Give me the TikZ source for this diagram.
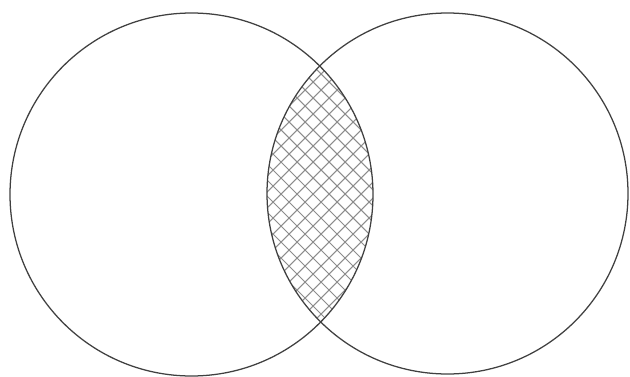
\documentclass[tikz,border=0pt]{standalone}
\usepackage{tikz}
\usetikzlibrary{calc}

\begin{document}
\begin{tikzpicture}[x=0.025cm, y=0.025cm,
    rim/.style={draw=black!75, line width=0.9pt},
    hatchline/.style={draw=black!45, line width=0.75pt}]
  \useasboundingbox (0,0) rectangle (630,376);

  % --- 2つの円の中心 ---
  \coordinate (A) at (191.5,181.5);
  \coordinate (B) at (447.5,182.5);

  % --- 共通部分：斜め格子 ---
  \begin{scope}
    \clip (A) circle [radius=181.5];
    \clip (B) circle [radius=180.5];
    \foreach \k in {-16,...,16} {
      \draw[hatchline] ($(321,190)+(\k*16,0)$) ++(-160,-160) -- ++(320,320);
      \draw[hatchline] ($(321,190)+(\k*16,0)$) ++(-160,160) -- ++(320,-320);
    }
  \end{scope}

  % --- 円 A, B ---
  \draw[rim] (A) circle [radius=181.5];
  \draw[rim] (B) circle [radius=180.5];
\end{tikzpicture}
\end{document}
